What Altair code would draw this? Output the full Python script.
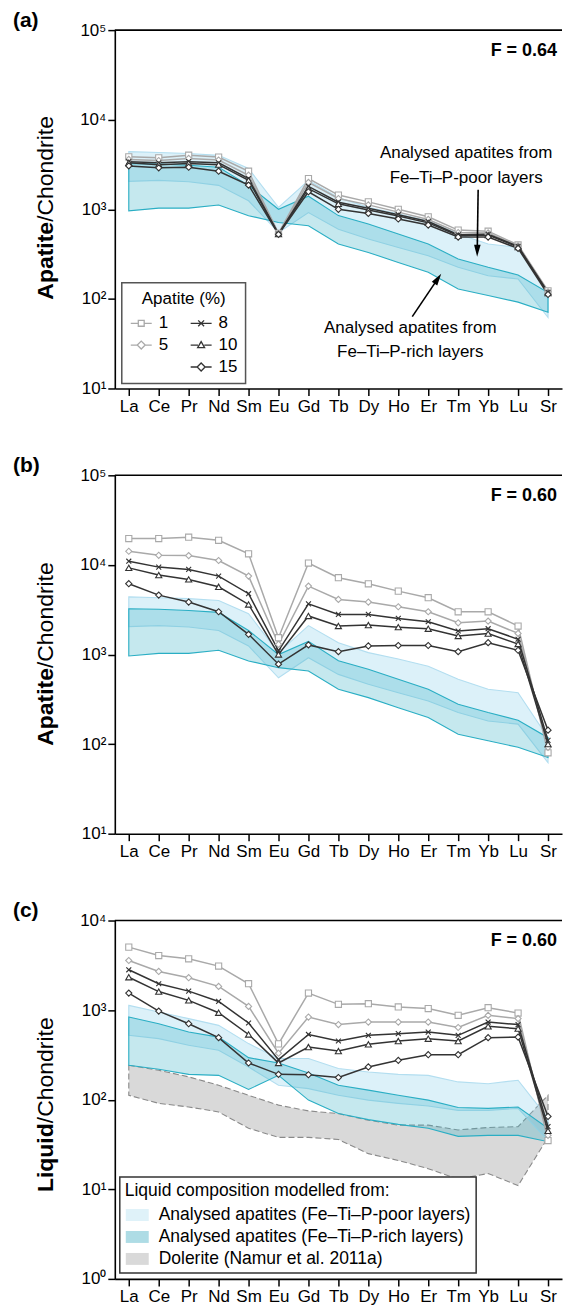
import math
import altair as alt
import pandas as pd

# ---------------- data ----------------
ELEMENTS = ["La", "Ce", "Pr", "Nd", "Sm", "Eu", "Gd", "Tb", "Dy", "Ho", "Er", "Tm", "Yb", "Lu", "Sr"]
SERIES = ["1", "5", "8", "10", "15"]

# (a) apatite, F = 0.64
A_S1 = [3850, 3760, 4020, 3830, 2660, 540, 2200, 1440, 1210, 1000, 824, 586, 570, 400, 123]
A_S5 = [3600, 3500, 3700, 3550, 2400, 535, 2000, 1320, 1120, 930, 770, 550, 545, 390, 120]
A_S8 = [3400, 3300, 3400, 3300, 2200, 530, 1800, 1200, 1030, 870, 730, 520, 525, 385, 118]
A_S10 = [3300, 3150, 3250, 3150, 2100, 528, 1700, 1150, 980, 840, 705, 510, 515, 380, 116]
A_S15 = [3050, 2900, 2950, 2660, 1860, 525, 1570, 1000, 900, 780, 667, 490, 490, 366, 112]

# (b) apatite, F = 0.60
B_S1 = [19700, 19700, 20400, 18800, 13300, 1540, 10500, 7200, 6150, 5100, 4300, 3000, 3000, 2080, 80]
B_S5 = [14200, 12800, 12700, 11200, 7500, 1300, 5800, 4120, 3850, 3410, 3000, 2260, 2360, 1720, 92]
B_S8 = [11000, 9450, 8900, 7500, 4770, 1100, 3680, 2800, 2800, 2530, 2320, 1830, 1940, 1480, 110]
B_S10 = [9270, 7700, 6890, 5700, 3620, 1000, 2690, 2080, 2130, 2020, 1940, 1610, 1710, 1310, 100]
B_S15 = [6170, 4600, 3850, 3000, 1680, 780, 1280, 1075, 1245, 1260, 1260, 1075, 1355, 1115, 143]

# (c) liquid, F = 0.60
C_S1 = [5050, 4070, 3740, 3100, 1970, 420, 1550, 1160, 1180, 1085, 1040, 875, 1065, 927, 35]
C_S5 = [3580, 2700, 2300, 1840, 1100, 330, 837, 690, 736, 736, 736, 640, 875, 804, 40]
C_S8 = [2820, 1970, 1630, 1250, 718, 280, 535, 452, 523, 546, 569, 523, 736, 690, 50]
C_S10 = [2330, 1610, 1285, 935, 535, 257, 387, 349, 415, 452, 480, 452, 659, 621, 45]
C_S15 = [1550, 975, 705, 493, 257, 192, 190, 177, 232, 275, 318, 318, 493, 500, 65]

# analysed apatite ranges
POOR_HI = [4400, 4300, 4200, 4000, 2850, 1050, 2100, 1355, 1050, 890, 740, 530, 410, 375, 118]
POOR_LO = [2050, 2100, 2030, 1850, 1245, 550, 920, 600, 466, 375, 303, 225, 181, 167, 62]
RICH_HI = [3240, 3200, 3100, 2950, 1850, 1000, 1400, 850, 684, 530, 409, 279, 225, 185, 118]
RICH_LO = [962, 1030, 1030, 1115, 848, 713, 655, 409, 330, 255, 198, 129, 109, 92, 71]

# modelled liquid ranges
LPOOR_HI = [1130, 953, 804, 676, 423, 288, 288, 223, 204, 192, 187, 158, 151, 165, 62]
LPOOR_LO = [525, 481, 405, 356, 232, 145, 133, 112, 99, 91, 85, 76, 76, 80, 35]
LRICH_HI = [837, 706, 569, 500, 295, 257, 199, 145, 128, 112, 99, 82, 80, 83, 48]
LRICH_LO = [242, 219, 192, 187, 130, 187, 99, 70, 60, 53, 48, 39, 40, 40, 34]
DOL_HI = [242, 213, 180, 145, 112, 87, 75, 70, 59, 52, 52, 46, 49, 50, 112]
DOL_LO = [112, 91, 83, 73, 48, 38, 38, 36, 25, 21, 17, 13, 15, 11, 38]

PANEL_LABELS = ["(a)", "(b)", "(c)"]
F_LABELS = ["F = 0.64", "F = 0.60", "F = 0.60"]
Y_BOLD = ["Apatite", "Apatite", "Liquid"]
Y_REST = "/Chondrite"
NOTE_POOR = "Analysed apatites from\nFe\u2013Ti\u2013P-poor layers"
NOTE_RICH = "Analysed apatites from\nFe\u2013Ti\u2013P-rich layers"

LEG_A_TITLE = "Apatite (%)"
LEG_A_ORDER = ["1", "5", "_", "8", "10", "15"]   # column-major, 2 columns x 3 rows
LEG_C_TITLE = "Liquid composition modelled from:"
LEG_C = ["Analysed apatites (Fe\u2013Ti\u2013P-poor layers)",
         "Analysed apatites (Fe\u2013Ti\u2013P-rich layers)",
         "Dolerite (Namur et al. 2011a)"]

# ---------------- styling ----------------
W, H = 448, 359
FONT = "Liberation Sans"
LIGHT = "#a9a9a9"
DARK = "#333333"
SER_COLORS = [LIGHT, LIGHT, DARK, DARK, DARK]
XPATH = "M-0.8,-0.8L0.8,0.8M-0.8,0.8L0.8,-0.8"
SER_SHAPES = ["square", "diamond", XPATH, "triangle-up", "diamond"]

POOR_FILL, POOR_OP, POOR_STROKE = "#80cde8", 0.28, "#b3def0"
RICH_FILL, RICH_OP, RICH_STROKE = "#3fb3c6", 0.30, "#2aaec4"
DOL_FILL, DOL_STROKE = "#d9d9d9", "#8a8a8a"

SUP = "['\u2070','\u00b9','\u00b2','\u00b3','\u2074','\u2075']"
YLABEL_EXPR = "'10' + " + SUP + "[round(log(datum.value)/LN10)]"

LEG_SQ = "M-1,0H-0.3M0.3,0H1M-0.28,-0.28H0.28V0.28H-0.28Z"
LEG_DI = "M-1,0H-0.38M0.38,0H1M-0.38,0L0,-0.38L0.38,0L0,0.38Z"
LEG_X = "M-1,0H1M-0.28,-0.28L0.28,0.28M-0.28,0.28L0.28,-0.28"
LEG_TR = "M-1,0H-0.3M0.3,0H1M-0.33,0.25L0,-0.33L0.33,0.25Z"
LEG_A_PATHS = [LEG_SQ, LEG_DI, "M0,0", LEG_X, LEG_TR, LEG_DI]
LEG_A_COLORS = [LIGHT, LIGHT, "#ffffff", DARK, DARK, DARK]
RECT = "M-1,-0.52H1V0.52H-1Z"


def x_enc():
    return alt.X("el:N", sort=ELEMENTS,
                 scale=alt.Scale(type="point", domain=ELEMENTS, padding=0.467),
                 axis=alt.Axis(title=None, labelAngle=0, labelFontSize=17, labelFont=FONT,
                               labelColor="black", tickSize=7, tickWidth=1.5, tickColor="black",
                               domainColor="black", domainWidth=1.6, labelPadding=3, grid=False))


def y_enc(field, dom):
    vals = [10 ** k for k in range(int(round(math.log10(dom[0]))), int(round(math.log10(dom[1]))) + 1)]
    return alt.Y(f"{field}:Q", scale=alt.Scale(type="log", domain=dom),
                 axis=alt.Axis(title=None, values=vals, labelExpr=YLABEL_EXPR, labelFontSize=17,
                               labelFont=FONT, labelColor="black", tickSize=7, tickWidth=1.5,
                               tickColor="black", domainColor="black", domainWidth=1.6,
                               labelPadding=2, grid=False))


def model_df(series_lists):
    rows = []
    for s, vals in zip(SERIES, series_lists):
        for el, v in zip(ELEMENTS, vals):
            rows.append({"el": el, "v": v, "s": s})
    return pd.DataFrame(rows)


def band(hi, lo, dom, fill, op, stroke, dash=None):
    df = pd.DataFrame({"el": ELEMENTS, "hi": hi, "lo": lo})
    kw = dict(fill=fill, fillOpacity=op, stroke=stroke, strokeWidth=1.1)
    if dash:
        kw["strokeDash"] = dash
    return alt.Chart(df).mark_area(**kw).encode(x=x_enc(), y=y_enc("hi", dom), y2="lo:Q")


def models(series_lists, dom):
    df = model_df(series_lists)
    stroke = alt.Stroke("s:N", scale=alt.Scale(domain=SERIES, range=SER_COLORS), legend=None)
    lines = alt.Chart(df).mark_line(strokeWidth=1.5).encode(
        x=x_enc(), y=y_enc("v", dom), detail="s:N", stroke=stroke)
    pts = alt.Chart(df).mark_point(fill="white", fillOpacity=1, opacity=1, strokeWidth=1.1, size=38).encode(
        x=x_enc(), y=y_enc("v", dom), stroke=stroke,
        shape=alt.Shape("s:N", scale=alt.Scale(domain=SERIES, range=SER_SHAPES), legend=None))
    return [lines, pts]


def one(col="t", val=""):
    return pd.DataFrame({col: [val]})


def text_layer(txt, x, y, size=17, weight="normal", align="left", baseline="middle", angle=0, lh=None):
    kw = dict(font=FONT, fontSize=size, fontWeight=weight, align=align, baseline=baseline, color="black")
    if angle:
        kw["angle"] = angle
    if lh:
        kw["lineHeight"] = lh
        kw["lineBreak"] = "\n"
    return alt.Chart(one("t", txt)).mark_text(**kw).encode(x=alt.value(x), y=alt.value(y), text="t:N")


def arrow(x1, y1, x2, y2):
    dx, dy = x2 - x1, y2 - y1
    L = math.hypot(dx, dy)
    ux, uy = dx / L, dy / L
    cx, cy = x2 - ux * 6, y2 - uy * 6
    ang = math.degrees(math.atan2(dx, -dy)) % 360
    rule = alt.Chart(one()).mark_rule(color="black", strokeWidth=1.6).encode(
        x=alt.value(x1), y=alt.value(y1), x2=alt.value(cx), y2=alt.value(cy))
    head = alt.Chart(one()).mark_point(shape="M0,-1L0.55,1L-0.55,1Z", filled=True, color="black",
                                       opacity=1, size=144, angle=ang).encode(
        x=alt.value(cx), y=alt.value(cy))
    return [rule, head]


def frame_top():
    return alt.Chart(one()).mark_rule(color="black", strokeWidth=1.6).encode(
        x=alt.value(0), x2=alt.value(W), y=alt.value(0))


def ytitle(i, bottom):
    bold_w = {"Apatite": 77.9, "Liquid": 69.0}[Y_BOLD[i]]
    return [text_layer(Y_BOLD[i], -69, bottom, size=23, weight="bold", angle=270),
            text_layer(Y_REST, -69, bottom - bold_w, size=23, angle=270)]


def common_text(i, bottom):
    return [frame_top(),
            text_layer(PANEL_LABELS[i], -102, -9.5, size=21, weight="bold"),
            text_layer(F_LABELS[i], 443, 21, size=18, weight="bold", align="right")] + ytitle(i, bottom)


legend_a = alt.Legend(title=LEG_A_TITLE, orient="none", legendX=7, legendY=253, columns=2,
                      columnPadding=19, rowPadding=2, symbolSize=441, symbolStrokeWidth=1.3,
                      labelFontSize=17, labelFont=FONT, labelColor="black", labelOffset=6,
                      labelExpr="datum.label == '_' ? '' : datum.label",
                      titleFontSize=17, titleFont=FONT, titleFontWeight="normal", titleColor="black",
                      titleAnchor="middle", titlePadding=4, padding=8, strokeColor="#555555",
                      fillColor="white")

legend_layer_a = alt.Chart(pd.DataFrame({"lg": LEG_A_ORDER})).transform_filter("false").mark_point(
    opacity=1, strokeWidth=1.3).encode(
    color=alt.Color("lg:N", scale=alt.Scale(domain=LEG_A_ORDER, range=LEG_A_COLORS), legend=legend_a),
    shape=alt.Shape("lg:N", scale=alt.Scale(domain=LEG_A_ORDER, range=LEG_A_PATHS), legend=legend_a))

legend_c = alt.Legend(title=LEG_C_TITLE, orient="none", legendX=5, legendY=257, symbolType=RECT,
                      symbolSize=529, symbolStrokeWidth=1.2, labelFontSize=17.5, labelFont=FONT,
                      labelColor="black", labelOffset=9, rowPadding=1, padding=5,
                      titleFontSize=17.5, titleFont=FONT, titleFontWeight="normal", titleColor="black",
                      titleAnchor="start", titlePadding=3, strokeColor="#333333", fillColor="white",
                      labelLimit=400, titleLimit=400)

legend_layer_c = alt.Chart(pd.DataFrame({"lg": LEG_C})).transform_filter("false").mark_point(
    filled=True, opacity=1, shape=RECT).encode(
    fill=alt.Fill("lg:N", scale=alt.Scale(domain=LEG_C, range=["#dff2f9", "#aedce5", "#d9d9d9"]),
                  legend=legend_c),
    stroke=alt.Stroke("lg:N", scale=alt.Scale(domain=LEG_C, range=[POOR_STROKE, RICH_STROKE, DOL_STROKE]),
                      legend=legend_c),
    strokeDash=alt.StrokeDash("lg:N", scale=alt.Scale(domain=LEG_C, range=[[1, 0], [1, 0], [6, 3]]),
                              legend=legend_c))

DOM_AP = [10, 100000]
DOM_LQ = [1, 10000]

pa_layers = [band(POOR_HI, POOR_LO, DOM_AP, POOR_FILL, POOR_OP, POOR_STROKE),
             band(RICH_HI, RICH_LO, DOM_AP, RICH_FILL, RICH_OP, RICH_STROKE)]
pa_layers += models([A_S1, A_S5, A_S8, A_S10, A_S15], DOM_AP)
pa_layers += common_text(0, 270)
pa_layers += [text_layer(NOTE_POOR, 352, 115, baseline="top", align="center", lh=25),
              text_layer(NOTE_RICH, 296, 290, baseline="top", align="center", lh=24)]
pa_layers += arrow(364, 160, 363, 227) + arrow(298, 287, 327, 244)
pa_layers += [legend_layer_a]
pa = alt.layer(*pa_layers).resolve_scale(shape="independent", color="independent").properties(width=W, height=H)

pb_layers = [band(POOR_HI, POOR_LO, DOM_AP, POOR_FILL, POOR_OP, POOR_STROKE),
             band(RICH_HI, RICH_LO, DOM_AP, RICH_FILL, RICH_OP, RICH_STROKE)]
pb_layers += models([B_S1, B_S5, B_S8, B_S10, B_S15], DOM_AP)
pb_layers += common_text(1, 271)
pb = alt.layer(*pb_layers).properties(width=W, height=H)

pc_layers = [band(DOL_HI, DOL_LO, DOM_LQ, DOL_FILL, 1.0, DOL_STROKE, dash=[6, 3]),
             band(LPOOR_HI, LPOOR_LO, DOM_LQ, POOR_FILL, POOR_OP, POOR_STROKE),
             band(LRICH_HI, LRICH_LO, DOM_LQ, RICH_FILL, RICH_OP, RICH_STROKE)]
pc_layers += models([C_S1, C_S5, C_S8, C_S10, C_S15], DOM_LQ)
pc_layers += common_text(2, 272)
pc_layers += [legend_layer_c]
pc = alt.layer(*pc_layers).properties(width=W, height=H)

ind = dict(color="independent", shape="independent", stroke="independent",
           fill="independent", strokeDash="independent")
chart = (alt.vconcat(pa, pb, pc, spacing=87, bounds="flush")
         .resolve_scale(**ind).resolve_legend(**ind)
         .properties(padding={"left": 13, "top": 8, "right": 0, "bottom": 3})
         .configure_view(stroke=None)
         .configure_legend(strokeWidth=1.5))

chart.save("out.html", embed_options={"renderer": "svg", "actions": False})
